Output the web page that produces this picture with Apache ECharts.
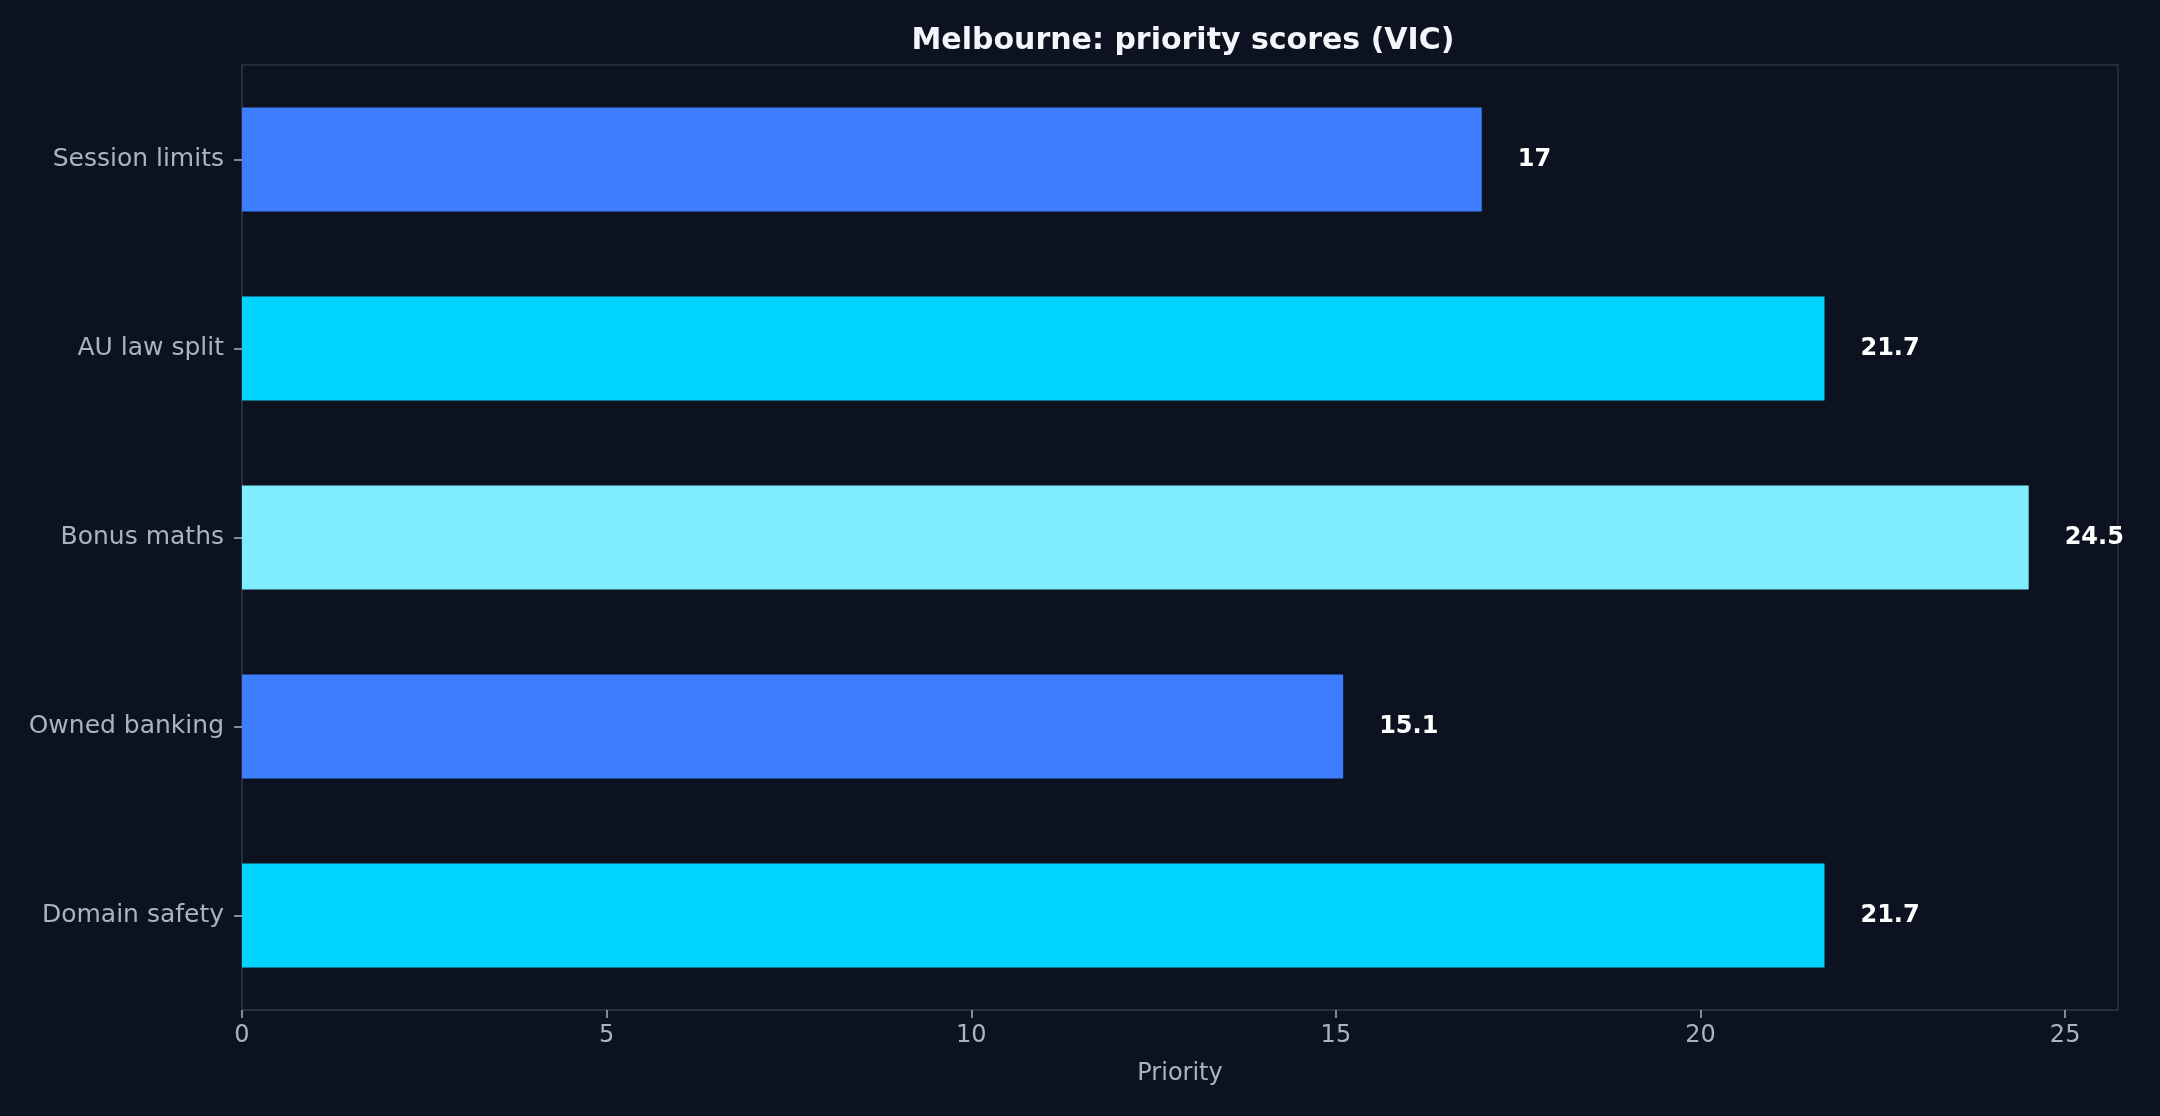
<!DOCTYPE html>
<html>
<head>
<meta charset="utf-8">
<script src="https://cdn.jsdelivr.net/npm/echarts@6/dist/echarts.min.js"></script>
<style>
  html, body { margin: 0; padding: 0; background: #0c1220; }
  #chart { width: 2160px; height: 1116px; }
</style>
</head>
<body>
<div id="chart"></div>
<script>
// data, top to bottom as in the picture
var categories = ['Session limits', 'AU law split', 'Bonus maths', 'Owned banking', 'Domain safety'];
var scores = [17, 21.7, 24.5, 15.1, 21.7];
var barColors = ['#3d7eff', '#00d4ff', '#7eeeff', '#3d7eff', '#00d4ff'];
var xTicks = [0, 5, 10, 15, 20, 25];

var myChart = echarts.init(document.getElementById('chart'));

var font = 'DejaVu Sans';
var axisGrey = '#a9b3c2';
var frame = '#2a3242';

// build the bar items with their own colour
var items = [];
for (var i = 0; i < scores.length; i++) {
    items.push({ value: scores[i], itemStyle: { color: barColors[i] } });
}

var option = {
    backgroundColor: '#0c1220',
    animation: false,
    title: {
        text: 'Melbourne: priority scores (VIC)',
        left: 1178,
        top: 21,
        textAlign: 'center',
        textStyle: { color: '#f2f5fa', fontFamily: font, fontWeight: 'bold', fontSize: 30 }
    },
    grid: {
        left: 242,
        right: 42,
        top: 65,
        bottom: 106,
        show: true,
        borderColor: frame,
        borderWidth: 1.5,
        backgroundColor: 'transparent'
    },
    xAxis: {
        type: 'value',
        min: 0,
        max: 25.725,
        interval: 5,
        name: 'Priority',
        nameLocation: 'middle',
        nameGap: 52,
        nameTextStyle: { color: axisGrey, fontFamily: font, fontSize: 24 },
        axisLine: { show: true, lineStyle: { color: frame, width: 1.5 } },
        axisTick: { show: true, length: 8, lineStyle: { color: axisGrey, width: 1.5 }, customValues: xTicks },
        axisLabel: { color: axisGrey, fontFamily: font, fontSize: 24, margin: 14, customValues: xTicks },
        splitLine: { show: false }
    },
    yAxis: {
        type: 'category',
        data: categories,
        inverse: true,
        axisLine: { show: true, lineStyle: { color: frame, width: 1.5 } },
        axisTick: { show: true, alignWithLabel: true, length: 8, lineStyle: { color: axisGrey, width: 1.5 } },
        axisLabel: { color: axisGrey, fontFamily: font, fontSize: 25, margin: 18, padding: [4, 0, 0, 0] },
        splitLine: { show: false }
    },
    series: [{
        type: 'bar',
        data: items,
        barWidth: '55%',
        label: {
            show: true,
            position: 'right',
            distance: 36,
            color: '#ffffff',
            fontFamily: font,
            fontWeight: 'bold',
            fontSize: 24
        }
    }]
};

myChart.setOption(option);
</script>
</body>
</html>
